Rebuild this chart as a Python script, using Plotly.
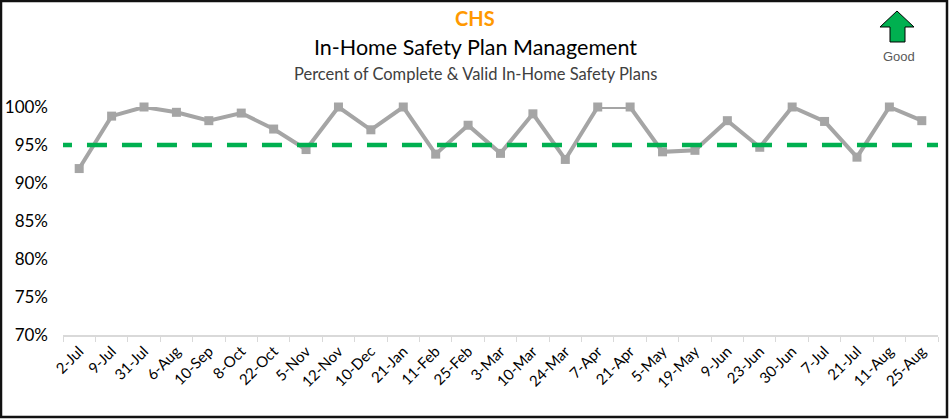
import plotly.graph_objects as go

# Weekly review dates and share of complete & valid in-home safety plans
dates = ["2-Jul", "9-Jul", "31-Jul", "6-Aug", "10-Sep", "8-Oct", "22-Oct", "5-Nov",
         "12-Nov", "10-Dec", "21-Jan", "11-Feb", "25-Feb", "3-Mar", "10-Mar", "24-Mar",
         "7-Apr", "21-Apr", "5-May", "19-May", "9-Jun", "23-Jun", "30-Jun", "7-Jul",
         "21-Jul", "11-Aug", "25-Aug"]
pct_valid = [0.919, 0.988, 1.000, 0.993, 0.982, 0.992, 0.971, 0.944,
             1.000, 0.970, 1.000, 0.938, 0.976, 0.939, 0.991, 0.931,
             1.000, 1.000, 0.941, 0.943, 0.982, 0.947, 1.000, 0.981,
             0.934, 1.000, 0.982]
target = 0.95
y_ticks = [0.70, 0.75, 0.80, 0.85, 0.90, 0.95, 1.00]

W, H = 951, 419
L, R, T, B = 63, 13, 107, 84
PW, PH = W - L - R, H - T - B


def px(x):
    return (x - L) / PW


def py(y):
    return (H - B - y) / PH


fig = go.Figure()
fig.add_trace(go.Scatter(
    x=dates, y=pct_valid, mode="lines+markers",
    line=dict(color="#A5A5A5", width=4),
    marker=dict(symbol="square", size=9, color="#A5A5A5"),
    cliponaxis=False, hoverinfo="x+y",
))

n = len(dates)
shapes = [
    # target line
    dict(type="line", xref="x", yref="y", x0=-0.84, x1=n - 0.5, y0=target, y1=target,
         line=dict(color="#00B050", width=4.5, dash="20px,15px")),
    # outer frame
    dict(type="rect", xref="paper", yref="paper", x0=px(1), x1=px(947), y0=py(1), y1=py(417),
         line=dict(color="#111111", width=2.5), fillcolor="rgba(0,0,0,0)"),
]

# "Good" direction arrow
arrow_pts = [(897, 11), (914, 27), (905, 27), (905, 42), (890, 42), (890, 27), (880, 27)]
path = "M " + " L ".join(f"{px(x):.5f},{py(y):.5f}" for x, y in arrow_pts) + " Z"
shapes.append(dict(type="path", xref="paper", yref="paper", path=path,
                   fillcolor="#00B050", line=dict(color="#000000", width=1)))

annotations = [
    dict(text="<b>CHS</b>", x=px(475), y=py(18), font=dict(size=20, color="#FF9900", family="Lato")),
    dict(text="In-Home Safety Plan Management", x=px(475), y=py(47),
         font=dict(size=21.5, color="#000000", family="Lato")),
    dict(text="Percent of Complete &amp; Valid In-Home Safety Plans", x=px(475), y=py(74),
         font=dict(size=16.5, color="#404040", family="Lato")),
    dict(text="Good", x=px(899), y=py(56), font=dict(size=13, color="#595959", family="Liberation Sans")),
]
for a in annotations:
    a.update(xref="paper", yref="paper", showarrow=False, xanchor="center", yanchor="middle")

fig.update_layout(
    width=W, height=H,
    margin=dict(l=L, r=R, t=T, b=B, pad=0, autoexpand=False),
    paper_bgcolor="white", plot_bgcolor="white",
    showlegend=False,
    shapes=shapes, annotations=annotations,
    xaxis=dict(
        type="category", categoryorder="array", categoryarray=dates,
        range=[-0.5, n - 0.5], automargin=False,
        showgrid=False, showline=True, linecolor="#D9D9D9", linewidth=1.5,
        ticks="outside", tickson="boundaries", ticklen=5, tickcolor="#D9D9D9",
        tickangle=-45, tickfont=dict(size=15, color="#000000", family="Lato"),
    ),
    yaxis=dict(
        range=[0.70, 1.00], tickvals=y_ticks, tickformat=".0%", automargin=False,
        showgrid=False, zeroline=False, showline=False,
        ticklabelstandoff=14,
        tickfont=dict(size=17, color="#000000", family="Lato"),
    ),
)

fig.write_html("out.html")
